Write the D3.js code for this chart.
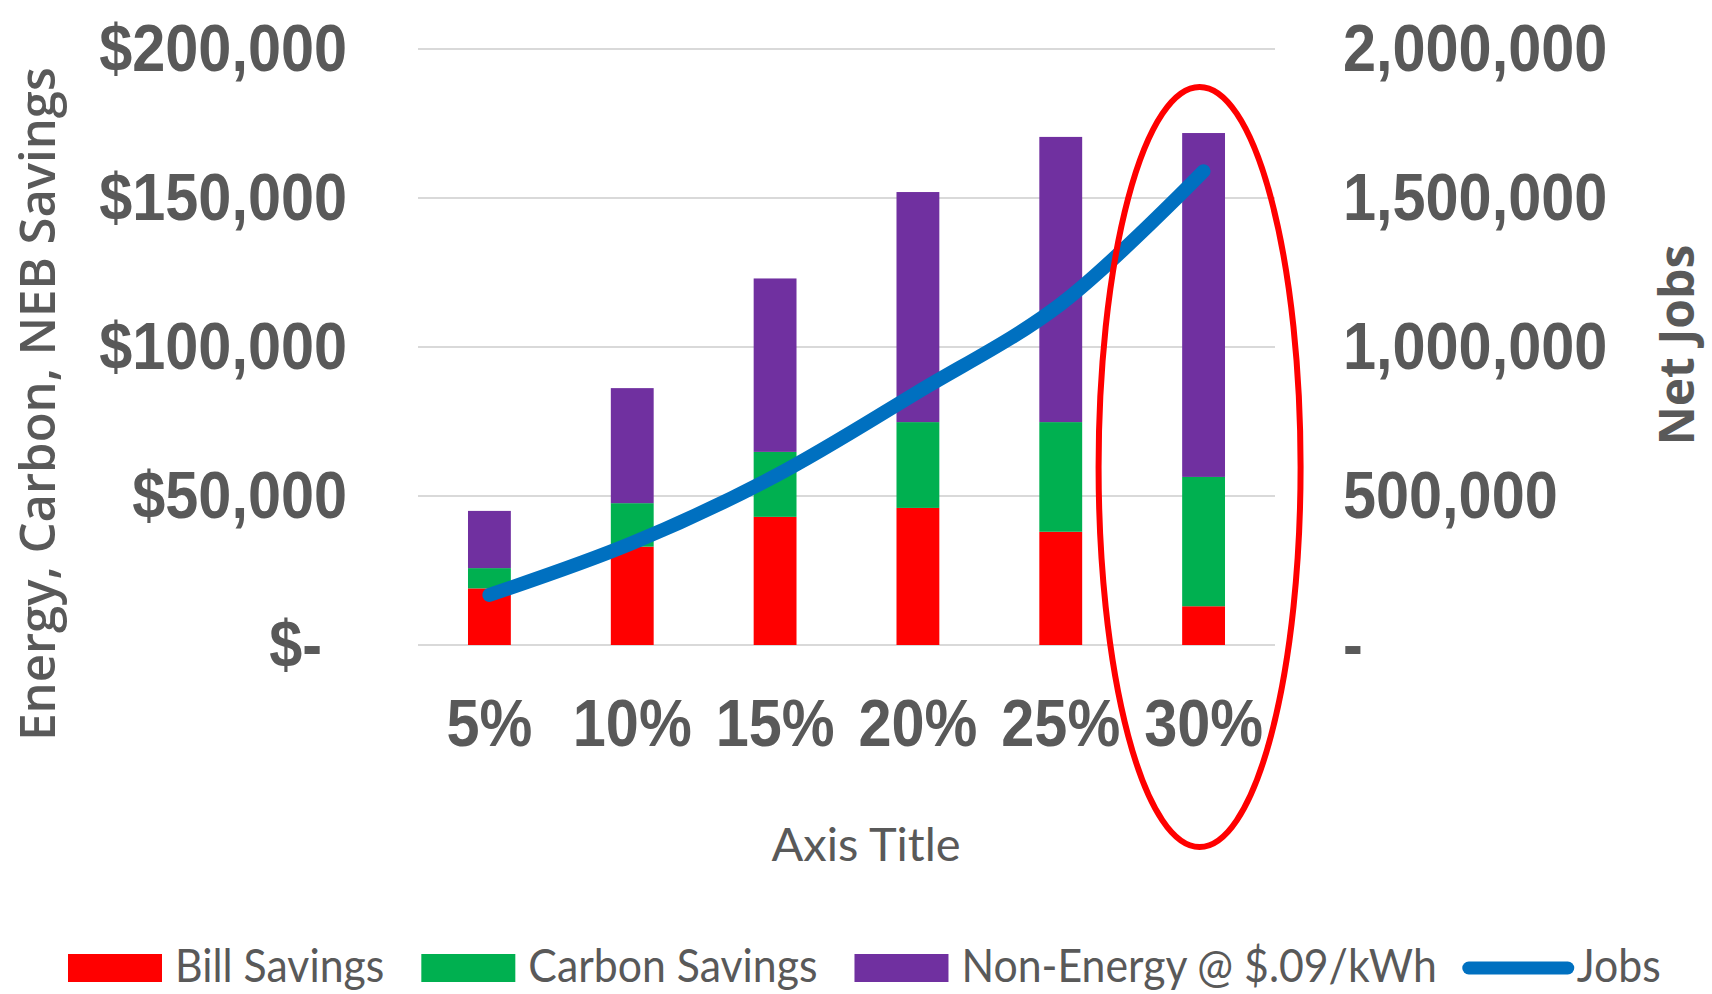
<!DOCTYPE html>
<html><head><meta charset="utf-8">
<script src="https://cdn.jsdelivr.net/npm/d3@7"></script>
<style>html,body{margin:0;padding:0;background:#fff;} svg{display:block}</style>
</head><body>
<svg id="chart" width="1712" height="994"></svg>
<script>
const categories = ["5%","10%","15%","20%","25%","30%"];
const billSavings = [19000, 33000, 43000, 46000, 38000, 13000];
const carbonSavings = [6800, 14600, 21800, 28800, 36800, 43400];
const nonEnergy = [19200, 38600, 58200, 77200, 95700, 115400];
const jobs = [168000, 342000, 567000, 849000, 1144000, 1590000];
const leftTicks = [0, 50000, 100000, 150000, 200000];
const rightTicks = [0, 500000, 1000000, 1500000, 2000000];
const seriesKeys = ["bill","carbon","neb"];
const seriesNames = ["Bill Savings","Carbon Savings","Non-Energy @ $.09/kWh","Jobs"];
const seriesColors = ["#FF0000","#00B050","#7030A0","#0070C0"];
const leftTitle = "Energy, Carbon, NEB Savings";
const rightTitle = "Net Jobs";
const xTitle = "Axis Title";

const svg = d3.select("#chart");
const plot = {left: 418, right: 1275, top: 49, bottom: 645};
const gray = "#595959";

function squeeze(sel, k){
  sel.each(function(){
    const w = this.getComputedTextLength();
    d3.select(this).attr("textLength", w*k).attr("lengthAdjust","spacingAndGlyphs");
  });
}

const x = d3.scaleBand().domain(categories).range([plot.left, plot.right]).paddingInner(0.7).paddingOuter(0.35);
const yL = d3.scaleLinear().domain([0, 200000]).range([plot.bottom, plot.top]);
const yR = d3.scaleLinear().domain([0, 2000000]).range([plot.bottom, plot.top]);

// gridlines
svg.append("g").selectAll("line").data(leftTicks).join("line")
  .attr("x1", plot.left).attr("x2", plot.right)
  .attr("y1", d => yL(d)).attr("y2", d => yL(d))
  .attr("stroke", "#d9d9d9").attr("stroke-width", 2);

// stacked bars
const table = categories.map((c,i) => ({cat: c, bill: billSavings[i], carbon: carbonSavings[i], neb: nonEnergy[i]}));
const stacked = d3.stack().keys(seriesKeys)(table);
svg.append("g").selectAll("g").data(stacked).join("g")
  .attr("fill", (d,i) => seriesColors[i])
  .selectAll("rect").data(d => d).join("rect")
  .attr("x", d => x(d.data.cat)).attr("width", x.bandwidth())
  .attr("y", d => yL(d[1])).attr("height", d => yL(d[0]) - yL(d[1]));

// jobs line
const line = d3.line()
  .x((d,i) => x(categories[i]) + x.bandwidth()/2)
  .y(d => yR(d))
  .curve(d3.curveCatmullRom.alpha(0.5));
svg.append("path").datum(jobs).attr("d", line)
  .attr("fill","none").attr("stroke", seriesColors[3]).attr("stroke-width", 14)
  .attr("stroke-linecap","round").attr("stroke-linejoin","round");

// left axis
const fmtL = d => d === 0 ? "$-" : "$" + d3.format(",")(d);
const gL = svg.append("g").attr("transform", `translate(${plot.left},0)`)
  .call(d3.axisLeft(yL).tickValues(leftTicks).tickSize(0).tickPadding(71).tickFormat(fmtL));
gL.select(".domain").remove();
gL.selectAll("text").attr("font-family","Liberation Sans, Arial, sans-serif").attr("font-size",66)
  .attr("font-weight","bold").attr("fill",gray);
gL.selectAll(".tick").filter(d => d === 0).select("text").attr("dx", -25);
squeeze(gL.selectAll("text"), 0.9);

// right axis
const fmtR = d => d === 0 ? "-" : d3.format(",")(d);
const gR = svg.append("g").attr("transform", `translate(${plot.right},0)`)
  .call(d3.axisRight(yR).tickValues(rightTicks).tickSize(0).tickPadding(68).tickFormat(fmtR));
gR.select(".domain").remove();
gR.selectAll("text").attr("font-family","Liberation Sans, Arial, sans-serif").attr("font-size",66)
  .attr("font-weight","bold").attr("fill",gray);
squeeze(gR.selectAll("text"), 0.9);

// x axis
const gX = svg.append("g").attr("transform", `translate(0,${plot.bottom})`)
  .call(d3.axisBottom(x).tickSize(0).tickPadding(54));
gX.select(".domain").remove();
gX.selectAll("text").attr("font-family","Liberation Sans, Arial, sans-serif").attr("font-size",66)
  .attr("font-weight","bold").attr("fill",gray);
squeeze(gX.selectAll("text"), 0.9);

// axis titles
svg.append("text").attr("transform","translate(55,404) rotate(-90)")
  .attr("text-anchor","middle").attr("font-family","Open Sans, sans-serif").attr("font-weight",600)
  .attr("font-size",49).attr("fill",gray).text(leftTitle);
svg.append("text").attr("transform","translate(1694,345) rotate(-90)")
  .attr("text-anchor","middle").attr("font-family","Open Sans, sans-serif").attr("font-weight",700)
  .attr("font-size",48).attr("fill",gray).text(rightTitle);
svg.append("text").attr("x", 866).attr("y", 861)
  .attr("text-anchor","middle").attr("font-family","Lato, sans-serif")
  .attr("font-size",47).attr("fill",gray).text(xTitle);

// annotation ellipse around 30%
svg.append("ellipse")
  .attr("cx", x("30%") + x.bandwidth()/2 - 4).attr("cy", 467)
  .attr("rx", 101).attr("ry", 380)
  .attr("fill","none").attr("stroke","#FF0000").attr("stroke-width",6);

// legend
const leg = svg.append("g");
let lx = 68;
const ly = 968;
seriesNames.forEach((name, i) => {
  if (i < 3) {
    leg.append("rect").attr("x", lx).attr("y", ly - 14).attr("width", 94).attr("height", 28).attr("fill", seriesColors[i]);
    lx += 94 + 13;
  } else {
    leg.append("line").attr("x1", lx + 7).attr("x2", lx + 106).attr("y1", ly).attr("y2", ly)
      .attr("stroke", seriesColors[i]).attr("stroke-width", 13).attr("stroke-linecap","round");
    lx += 115;
  }
  const t = leg.append("text").attr("x", lx).attr("y", ly + 14)
    .attr("font-family","Lato, sans-serif").attr("font-size",46).attr("fill",gray).text(name);
  const w = t.node().getComputedTextLength() * 0.93;
  t.attr("textLength", w).attr("lengthAdjust","spacingAndGlyphs");
  lx += w + (i < 2 ? 37 : 25);
});
</script>
</body></html>
